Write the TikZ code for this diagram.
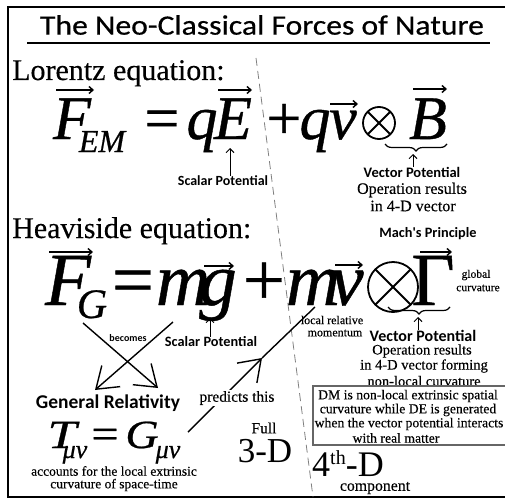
\documentclass[tikz,border=0pt]{standalone}
\usepackage{fontspec}
\setmainfont{Liberation Serif}
\newfontfamily\sansf{Carlito}
\newfontfamily\titlef[FakeBold=0.5]{Carlito}
\newfontfamily\eqf[FakeBold=0.6]{Liberation Serif}
\newfontfamily\lblf[FakeBold=0.3]{Liberation Serif}
\usetikzlibrary{arrows.meta,decorations.pathreplacing,calc}
\newcommand\fs[1]{\fontsize{#1}{#1}\selectfont}
\tikzset{
  gl/.style={inner sep=0pt, anchor=base},
  lbl/.style={inner sep=0pt, anchor=center},
  sanslbl/.style={lbl, font=\sansf\bfseries\fs{#1}},
  seriflbl/.style={lbl, font=\lblf\fs{#1}},
  vecar/.style={line width=1.4pt, -{Straight Barb[length=4pt,width=7pt]}},
  smallup/.style={line width=1pt, -{Straight Barb[length=4pt,width=8pt]}},
  bigv/.style={line width=1.4pt, -{Straight Barb[length=20pt,width=28pt,line width=1.4pt]}},
  plain/.style={line width=1.4pt},
  brc/.style={line width=1.2pt, decorate, decoration={brace, amplitude=7pt}},
  otimes/.style={line width=1.8pt},
}
\begin{document}
\begin{tikzpicture}[x=1pt,y=-1pt]
\useasboundingbox (0,0) rectangle (505,500);
% frame
\coordinate (fr1) at (506,7);
\coordinate (fr2) at (8,7);
\coordinate (fr3) at (8,497);
\coordinate (fr4) at (506,497);
\draw[line width=2pt] (fr1) -- (fr2) -- (fr3) -- (fr4);
% title
\node[lbl, font=\titlef\fs{28}] (title) at (262,25) {\scalebox{1.13}[1]{The Neo-Classical Forces of Nature}};
\coordinate (ul1) at (27,43);
\coordinate (ul2) at (490,43);
\draw[line width=2pt] (ul1) -- (ul2);
% dashed divider
\coordinate (dT) at (256,58);
\coordinate (dB) at (313,497);
\draw[gray, line width=0.8pt, dash pattern=on 8pt off 5pt] (dT) -- (dB);
% headings
\node[inner sep=0pt, anchor=base west, font=\lblf\fs{30}] (lor) at (12,80) {Lorentz equation:};
\node[inner sep=0pt, anchor=base west, font=\lblf\fs{30}] (hea) at (12,238) {Heaviside equation:};

% ---------- Lorentz equation ----------
\begin{scope}[every node/.style={gl, font=\eqf\fs{62}\itshape}]
\node (F1) at (72,139) {F};
\node[font=\eqf\fs{32}\itshape] (EM) at (102,152) {EM};
\node[font=\eqf\fs{62}] (eq1) at (162,139) {=};
\node (q1) at (202,139) {q};
\node (E1) at (233,139) {E};
\node[font=\eqf\fs{62}] (pl1) at (284,139) {+};
\node (q2) at (315,139) {q};
\node (v1) at (343,139) {v};
\node (B1) at (428,139) {B};
\end{scope}
\coordinate (ot1) at (379,123);
\draw[otimes] (ot1) circle (16);
\draw[otimes] ($(ot1)+(-11.3,-11.3)$) -- ($(ot1)+(11.3,11.3)$);
\draw[otimes] ($(ot1)+(-11.3,11.3)$) -- ($(ot1)+(11.3,-11.3)$);
\coordinate (aF1a) at (56,90); \coordinate (aF1b) at (94,90);
\coordinate (aE1a) at (218,90); \coordinate (aE1b) at (252,90);
\coordinate (av1a) at (330,104); \coordinate (av1b) at (358,104);
\coordinate (aB1a) at (413,89); \coordinate (aB1b) at (447,89);
\draw[vecar] (aF1a) -- (aF1b);
\draw[vecar] (aE1a) -- (aE1b);
\draw[vecar] (av1a) -- (av1b);
\draw[vecar] (aB1a) -- (aB1b);
\coordinate (br1a) at (447,144); \coordinate (br1b) at (385,144);
\draw[brc] (br1a) -- (br1b);
\node[sanslbl=14] (S1) at (223,181) {Scalar Potential};
\coordinate (sa1) at (230,148);
\draw[smallup] (S1.north -| sa1) -- (sa1);
\node[sanslbl=14.5] (V1) at (412,172) {Vector Potential};
\coordinate (va1) at (413,154);
\draw[smallup] (V1.north -| va1) -- (va1);
\node[seriflbl=16] (O1) at (412,190) {Operation results};
\node[seriflbl=16] (O1b) at (413,206) {in 4-D vector};

% ---------- Heaviside equation ----------
\node[sanslbl=14.3] (mach) at (428,234) {Mach's Principle};
\begin{scope}[every node/.style={gl, font=\eqf\fs{75}\itshape}]
\node (F2) at (68,305) {F};
\node[font=\eqf\fs{42}\itshape] (G2) at (92,318) {G};
\node[font=\eqf\fs{75}] (eq2) at (133,305) {=};
\node (m1) at (183,305) {m};
\node (g1) at (218,305) {g};
\node[font=\eqf\fs{75}] (pl2) at (264,305) {+};
\node (m2) at (313,305) {m};
\node (v2) at (347,305) {v};
\node[font=\eqf\fs{75}] (Gam) at (433,305) {Γ};
\end{scope}
\coordinate (ot2) at (393,287);
\draw[otimes] (ot2) circle (25);
\draw[otimes] ($(ot2)+(-17.7,-17.7)$) -- ($(ot2)+(17.7,17.7)$);
\draw[otimes] ($(ot2)+(-17.7,17.7)$) -- ($(ot2)+(17.7,-17.7)$);
\coordinate (aF2a) at (49,252); \coordinate (aF2b) at (93,252);
\coordinate (ag1a) at (204,266); \coordinate (ag1b) at (234,266);
\coordinate (av2a) at (335,265); \coordinate (av2b) at (363,265);
\coordinate (aGa) at (420,252); \coordinate (aGb) at (452,252);
\draw[vecar] (aF2a) -- (aF2b);
\draw[vecar] (ag1a) -- (ag1b);
\draw[vecar] (av2a) -- (av2b);
\draw[vecar] (aGa) -- (aGb);
\node[seriflbl=11.5] (glob) at (476,275) {global};
\node[seriflbl=11.5] (curv) at (478,288) {curvature};
\coordinate (br2a) at (450,307); \coordinate (br2b) at (388,307);
\draw[brc] (br2a) -- (br2b);
\node[sanslbl=16] (V2) at (423,336) {Vector Potential};
\coordinate (va2) at (418,317);
\draw[smallup] (V2.north -| va2) -- (va2);
\node[seriflbl=14.5] (O2) at (422,351) {Operation results};
\node[seriflbl=14.5] (O2b) at (424,366) {in 4-D vector forming};
\node[seriflbl=14.5] (O2c) at (424,381) {non-local curvature};
\node[sanslbl=14.3] (S2) at (211,342) {Scalar Potential};
\coordinate (sa2) at (210,318);
\draw[smallup] (S2.north -| sa2) -- (sa2);
\node[seriflbl=12] (loc1) at (332,320) {local relative};
\node[seriflbl=12] (loc2) at (335,333) {momentum};
\node[lbl, font=\sansf\bfseries\fs{10}] (bec) at (128,338) {becomes};

% cross arrows
\coordinate (cA1) at (83,323); \coordinate (cA2) at (158,388);
\coordinate (cB1) at (173,322); \coordinate (cB2) at (95,390);
\draw[bigv] (cA1) -- (cA2);
\draw[bigv] (cB1) -- (cB2);

% predicts arrow
\coordinate (pr1) at (188,432); \coordinate (prt) at (262,358); \coordinate (pr2) at (315,307);
\draw[bigv] (pr1) -- (prt);
\draw[plain] (prt) -- (pr2);
\node[seriflbl=15.4, fill=white, inner sep=1pt] (pred) at (237,398) {predicts this};

% ---------- General relativity ----------
\node[sanslbl=19.5] (GR) at (108,403) {General Relativity};
\node[gl, font=\eqf\fs{40}\itshape] (T) at (62,448) {\scalebox{1.3}[1]{T}};
\node[gl, font=\eqf\fs{26}\itshape] (mn1) at (75,458) {μν};
\node[gl, font=\eqf\fs{42}] (eq3) at (105,448) {\scalebox{1.15}[1]{=}};
\node[gl, font=\eqf\fs{40}\itshape] (G3) at (142,448) {\scalebox{1.15}[1]{G}};
\node[gl, font=\eqf\fs{26}\itshape] (mn2) at (168,458) {μν};
\node[seriflbl=13.5] (acc1) at (114,471) {accounts for the local extrinsic};
\node[seriflbl=13.5] (acc2) at (114,485) {curvature of space-time};

\node[seriflbl=15.5] (full) at (264,428) {Full};
\node[gl, font=\fs{35}] (threeD) at (265,462) {3-D};
\node[inner sep=0pt, anchor=base west, font=\fs{36}] (fourD) at (312,476) {4\raisebox{12pt}{\fs{20}th}-D};
\node[seriflbl=15.8] (comp) at (375,488) {component};

% box
\coordinate (bx1) at (313,386); \coordinate (bx2) at (508,445);
\draw[gray!80!black, line width=1.2pt] (bx1) rectangle (bx2);
\node[seriflbl=13.7] (b1) at (408,396) {DM is non-local extrinsic spatial};
\node[seriflbl=13.7] (b2) at (408,410) {curvature while DE is generated};
\node[seriflbl=13.7] (b3) at (409,424) {when the vector potential interacts};
\node[seriflbl=13.7] (b4) at (396,438) {with real matter};
\end{tikzpicture}
\end{document}
